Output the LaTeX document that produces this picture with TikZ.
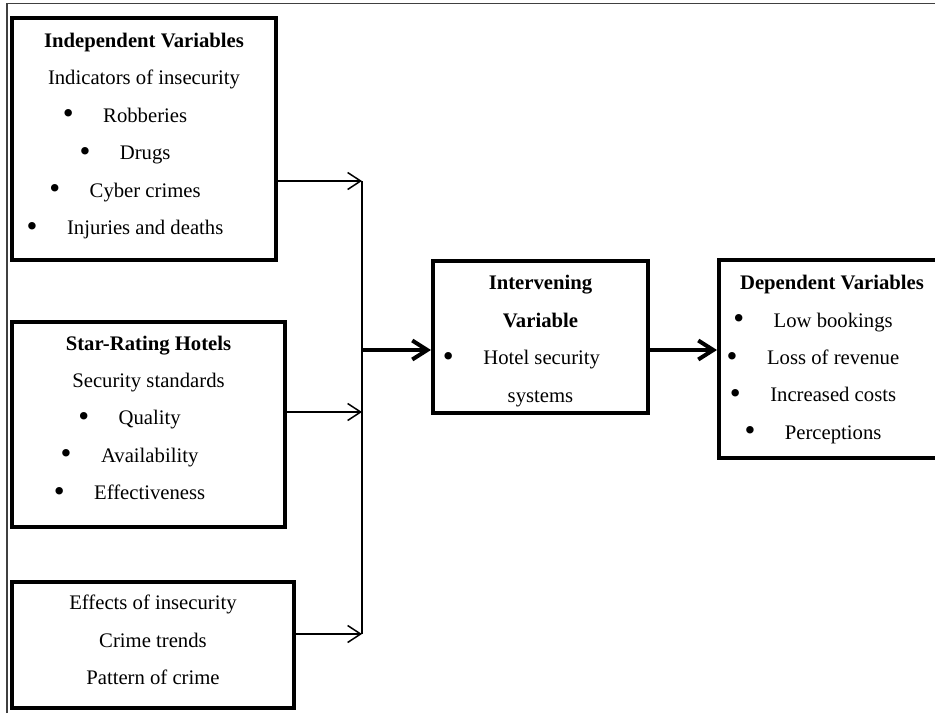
\documentclass[tikz,border=0pt]{standalone}
\usepackage{fontspec}
\setmainfont{Liberation Serif}
\usetikzlibrary{arrows.meta}

\newcommand{\itm}[1]{\raisebox{-1.6pt}{\scalebox{1.5}{\textbullet}}\hspace{29.5pt}#1\kern38pt}

\tikzset{
  varbox/.style={draw, line width=4pt, inner sep=0pt},
  vartext/.style={align=center, inner sep=0pt, font=\fontsize{20.7}{37.4}\selectfont},
  feed/.style={line width=1.5pt, -{Straight Barb[length=13pt,width=17pt]}},
  mainarrow/.style={line width=4pt, -{Straight Barb[length=15pt,width=19pt]}},
}

\begin{document}
\begin{tikzpicture}[x=1pt,y=-1pt]
  \useasboundingbox (0,0) rectangle (935,715);
  % frame of the scan
  \draw[black!75, line width=1.2pt] (7,713) -- (7,3.5) -- (935,3.5);

  \node[varbox, minimum width=264pt, minimum height=242pt] (indep) at (144,139) {};
  \node[vartext, yshift=3pt] (indep-txt) at (indep.center)
    {\textbf{Independent Variables}\\Indicators of insecurity\\\itm{Robberies}\\\itm{Drugs}\\\itm{Cyber crimes}\\\itm{Injuries and deaths}};
  \node[varbox, minimum width=273pt, minimum height=205pt] (star) at (148.5,424.5) {};
  \node[vartext, yshift=6pt] (star-txt) at (star.center)
    {\textbf{Star-Rating Hotels}\\Security standards\\\itm{Quality}\\\itm{Availability}\\\itm{Effectiveness}};
  \node[varbox, minimum width=282pt, minimum height=126pt] (effects) at (153,645) {};
  \node[vartext, yshift=5pt] (effects-txt) at (effects.center)
    {Effects of insecurity\\Crime trends\\Pattern of crime};
  \node[varbox, minimum width=215pt, minimum height=152pt] (interv) at (540.5,337) {};
  \node[vartext, yshift=-4pt] (interv-txt) at (interv.center)
    {\textbf{Intervening}\\\textbf{Variable}\\\itm{Hotel security}\\systems};
  \node[varbox, minimum width=226pt, minimum height=198pt] (dep) at (832,359) {};
  \node[vartext, yshift=-0.5pt] (dep-txt) at (dep.center)
    {\textbf{Dependent Variables}\\\itm{Low bookings}\\\itm{Loss of revenue}\\\itm{Increased costs}\\\itm{Perceptions}};

  % bus
  \coordinate (j1) at (362,181);
  \coordinate (j2) at (362,412);
  \coordinate (j3) at (362,634);
  \coordinate (jm) at (362,350);
  \draw[line width=1.5pt] (j1) -- (j3);
  \draw[feed] (indep.east |- j1) -- (j1);
  \draw[feed] (star.east |- j2) -- (j2);
  \draw[feed] (effects.east |- j3) -- (j3);
  \draw[mainarrow] (jm) -- (interv.west |- jm);
  \draw[mainarrow] (interv.east |- jm) -- (dep.west |- jm);
\end{tikzpicture}
\end{document}
